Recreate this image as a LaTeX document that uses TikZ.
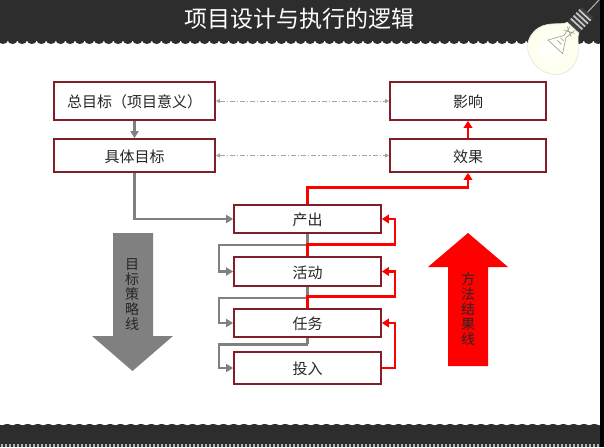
\documentclass[tikz,border=0pt]{standalone}
\usepackage{fontspec}
\setmainfont{Noto Sans CJK SC}
\usetikzlibrary{arrows.meta,calc}
\definecolor{band}{RGB}{45,45,45}
\definecolor{boxred}{RGB}{130,30,40}
\definecolor{conngray}{RGB}{128,128,128}
\definecolor{linkgray}{RGB}{165,165,165}
\definecolor{redline}{RGB}{255,0,0}
\tikzset{
  box/.style={draw=boxred,line width=1.7pt,fill=white,minimum width=#1,inner sep=0pt,text height=14pt,text depth=1pt,font=\fontsize{15}{15}\selectfont,text=black!85},
  gline/.style={draw=conngray,line width=2.4pt,-{Triangle[length=7pt,width=8pt]}},
  gplain/.style={draw=conngray,line width=2.4pt},
  rline/.style={draw=redline,line width=2.7pt,-{Triangle[length=7pt,width=8.5pt]}},
  link/.style={draw=linkgray,line width=.8pt,dash pattern=on 5pt off 2pt on 1.2pt off 2pt,{Triangle[length=4pt,width=4pt]}-{Triangle[length=4pt,width=4pt]}},
  vtext/.style={align=center,font=\fontsize{14}{15}\selectfont,text=black!85,inner sep=0pt},
}
\begin{document}
\begin{tikzpicture}[x=1pt,y=-1pt]
\useasboundingbox (0,0) rectangle (604,447);
\fill[white] (0,0) rectangle (604,447);
% bands
\fill[band] (0,0) rectangle (604,40.5);
\foreach \i in {0,...,63} {\fill[band] (\i*9.6+3,40) ellipse (4.9pt and 4pt);}
\fill[band] (0,423.5) rectangle (604,447);
\foreach \i in {0,...,60} {\fill[white] (\i*10.3+2,422.5) ellipse (4.6pt and 2.6pt);}
\foreach \i in {0,...,150} {\fill[white!70!black] (\i*4+1,444) rectangle ++(2,3);}
% bulb
\begin{scope}[shift={(571,30)},rotate=-43]
  \draw[white!70!black,line width=1pt] (0,-24) -- (0,-50);
  \fill[white!25!black] (-8,-24) rectangle (8,-3);
  \foreach \yy in {-21,-17,-13,-9} \fill[white!80!black] (-8,\yy) rectangle (8,\yy+1.6);
  \draw[draw=white!90!black,line width=.7pt,inner color=white,outer color=yellow!9]
    (-8,-3) .. controls (-10,4) and (-26,10) .. (-26,27)
    .. controls (-26,42) and (-13,50) .. (0,50)
    .. controls (13,50) and (26,42) .. (26,27)
    .. controls (26,10) and (10,4) .. (8,-3) -- cycle;
  \draw[white!55!black,line width=.5pt] (-3,-2) -- (-1.5,9) -- (-10,23) -- (10,23) -- (1.5,9) -- (3,-2);
  \draw[white!55!black,line width=.5pt] (-5,0) -- (5,5) (-5,5) -- (5,0) (-2,13)--(2,13) (-3,17)--(3,17);
\end{scope}
% right strip
\fill[black] (600,0) rectangle (604,447);
% title
\node[text=white,font=\fontsize{23}{24}\selectfont,inner sep=0pt] (title) at (299.5,19) {项目设计与执行的逻辑};
% boxes
\node[box=161pt,minimum height=38pt] (goal) at (134.5,101) {总目标（项目意义）};
\node[box=161pt,minimum height=33pt] (spec) at (134.5,155.5) {具体目标};
\node[box=156pt,minimum height=38pt] (impact) at (468,101) {影响};
\node[box=156pt,minimum height=33pt] (effect) at (468,155.5) {效果};
\node[box=147pt,minimum height=28pt] (output) at (307.5,219) {产出};
\node[box=147pt,minimum height=29pt] (act) at (307.5,271.5) {活动};
\node[box=147pt,minimum height=28pt] (task) at (307.5,323) {任务};
\node[box=147pt,minimum height=32pt] (input) at (307.5,368) {投入};
% dash-dot links
\draw[link] (goal) -- (impact);
\draw[link] (spec) -- (effect);
% gray connectors
\draw[gline] (goal) -- (spec);
\draw[gline] (spec.south) |- (output.west);
\draw[gplain] (output.south) -- ++(0,11) coordinate (g1);
\draw[gline] (g1) -| (219,271.5) -- (act.west);
\draw[gplain] (act.south) -- ++(0,11) coordinate (g2);
\draw[gline] (g2) -| (219,323) -- (task.west);
\draw[gplain] (task.south) -- ++(0,6.5) coordinate (g3);
\draw[gline] (g3) -| (219,368) -- (input.west);
% red connectors
\draw[rline] (act.north) -- ++(0,-12) coordinate (r1) -| (395,219) -- (output.east);
\draw[rline] (task.north) -- ++(0,-12) coordinate (r2) -| (395,271.5) -- (act.east);
\draw[rline] (input.east) -- (395,368) -- (395,323) -- (task.east);
\draw[rline] (output.north) -- ++(0,-17) coordinate (r3) -| (effect.south);
\draw[rline] (effect) -- (impact);
% big arrows
\fill[conngray] (113,233) -- (153,233) -- (153,336) -- (173,336) -- (132.5,371) -- (92,336) -- (113,336) -- cycle;
\node[vtext] (lefttext) at (132,295) {目\\标\\策\\略\\线};
\fill[redline] (468,233) -- (508,267) -- (488,267) -- (488,366) -- (448,366) -- (448,267) -- (428,267) -- cycle;
\node[vtext] (righttext) at (468,309) {方\\法\\结\\果\\线};
\end{tikzpicture}
\end{document}
